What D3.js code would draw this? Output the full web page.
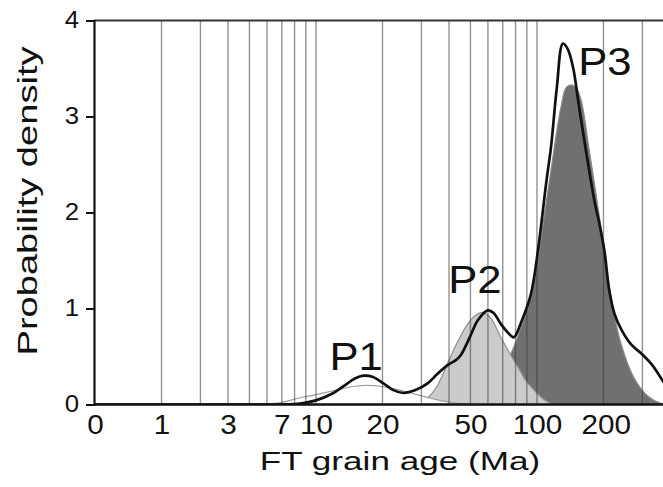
<!DOCTYPE html>
<html><head><meta charset="utf-8">
<script src="https://cdn.jsdelivr.net/npm/d3@7"></script>
<style>
body{margin:0;background:#fff}
svg{display:block}
text{font-family:"Liberation Sans",Arial,Helvetica,sans-serif;fill:#111}
</style>
</head><body>
<svg id="chart" width="663" height="487"></svg>
<script>
// ---- data (ages in Ma, probability density) ----
const totalAge  = [1, 5, 6.9, 8.5, 9.9, 12, 13.5, 15, 16.4, 18, 20.2, 22.4, 24.9, 28.2, 32, 35.5, 39.4, 42.8, 45.1, 50.1, 53.9, 59.9, 63.8, 68.6, 73.8, 78.6, 84.6, 93.9, 101, 110, 116, 123, 131, 138, 146, 154, 162, 172, 182, 191, 202, 212, 224, 241, 268, 297, 330, 378, 407];
const totalDens = [0, 0, 0, 0.01, 0.04, 0.12, 0.2, 0.27, 0.3, 0.29, 0.22, 0.15, 0.12, 0.15, 0.22, 0.32, 0.41, 0.46, 0.51, 0.72, 0.875, 0.98, 0.95, 0.84, 0.75, 0.70, 0.85, 1.15, 1.6, 2.3, 2.7, 3.3, 3.76, 3.7, 3.5, 3.15, 2.82, 2.45, 2.12, 1.9, 1.6, 1.2, 0.95, 0.78, 0.62, 0.53, 0.42, 0.22, 0.12];

const p1Age  = [5, 5.9, 6.9, 8.5, 10.4, 12.9, 15, 17, 19.5, 22.9, 26.8, 31.3, 36.6, 42.8, 50];
const p1Dens = [0, 0.005, 0.02, 0.07, 0.11, 0.16, 0.19, 0.2, 0.19, 0.16, 0.12, 0.08, 0.04, 0.015, 0];

const p2Age  = [24, 28.2, 32, 35.5, 39.4, 43.7, 48.6, 52.8, 56.8, 61.8, 68.6, 74.6, 82, 89, 97, 106.5, 116, 128];
const p2Dens = [0, 0.02, 0.07, 0.2, 0.43, 0.65, 0.84, 0.93, 0.96, 0.9, 0.7, 0.55, 0.39, 0.25, 0.15, 0.06, 0.01, 0];

const p3Age  = [50, 58.6, 65.1, 72.3, 78.6, 84.6, 93.9, 101, 110, 116, 122, 128.5, 135.5, 142.7, 150.4, 158.5, 172.4, 189.3, 206, 217, 241, 276, 320, 366, 407];
const p3Dens = [0, 0.08, 0.2, 0.42, 0.6, 0.8, 1.1, 1.5, 2.1, 2.45, 2.8, 3.1, 3.3, 3.33, 3.3, 3.17, 2.65, 2.04, 1.45, 1.1, 0.62, 0.27, 0.08, 0.01, 0];

const gridValues  = [2, 3, 4, 5, 6, 7, 8, 9, 10, 20, 30, 40, 50, 60, 70, 80, 90, 100, 200, 300];
const xTickValues = [1, 2, 4, 7, 10, 20, 50, 100, 205];
const xTickLabels = ["0", "1", "3", "7", "10", "20", "50", "100", "200"];
const yTickValues = [0, 1, 2, 3, 4];

const peakLabels = ["P1", "P2", "P3"];
const peakAge    = [15.2, 52.4, 203];
const peakDens   = [0.36, 1.16, 3.43];

const xTitle = "FT grain age (Ma)";
const yTitle = "Probability density";

// ---- drawing ----
const svg = d3.select("#chart");
const x = d3.scaleLog().domain([1, 400]).range([95, 670]);
const y = d3.scaleLinear().domain([0, 4]).range([404.5, 20.5]);

svg.append("defs").append("clipPath").attr("id", "plotclip")
  .append("rect").attr("x", 95).attr("y", 20).attr("width", 580).attr("height", 385);

const plot = svg.append("g").attr("clip-path", "url(#plotclip)");
const zip = (a, b) => a.map((v, i) => [v, b[i]]);

const area = d3.area().x(d => x(d[0])).y0(y(0)).y1(d => y(d[1])).curve(d3.curveCatmullRom.alpha(0.5));
const line = d3.line().x(d => x(d[0])).y(d => y(d[1])).curve(d3.curveCatmullRom.alpha(0.5));

const comps = [
  {data: zip(p3Age, p3Dens), fill: "#707070", stroke: "#8a8a8a"},
  {data: zip(p2Age, p2Dens), fill: "#cbcbcb", stroke: "#8f8f8f"},
  {data: zip(p1Age, p1Dens), fill: "#ffffff", stroke: "#a0a0a0"}
];
comps.forEach(c => {
  plot.append("path").datum(c.data).attr("d", area).attr("fill", c.fill);
  plot.append("path").datum(c.data).attr("d", line).attr("fill", "none")
      .attr("stroke", c.stroke).attr("stroke-width", 1.2);
});

// grid lines
plot.append("g").selectAll("line").data(gridValues).join("line")
  .attr("x1", d => x(d)).attr("x2", d => x(d))
  .attr("y1", y(4)).attr("y2", y(0))
  .attr("stroke", "#3a3a3a").attr("stroke-opacity", 0.55).attr("stroke-width", 1.4);

// total density curve
plot.append("path").datum(zip(totalAge, totalDens)).attr("d", line)
  .attr("fill", "none").attr("stroke", "#111").attr("stroke-width", 2.7)
  .attr("stroke-linejoin", "round");

// top border
svg.append("line").attr("x1", 94).attr("x2", 663).attr("y1", y(4)).attr("y2", y(4))
  .attr("stroke", "#333").attr("stroke-width", 2);

function stretch(sel, f) {
  sel.each(function() {
    const w = this.getComputedTextLength();
    d3.select(this).attr("textLength", w * f).attr("lengthAdjust", "spacingAndGlyphs");
  });
}

// y axis
const yAxis = svg.append("g").attr("transform", "translate(94,0)")
  .call(d3.axisLeft(y).tickValues(yTickValues).tickFormat(d3.format("d")).tickSize(8).tickPadding(7));
yAxis.select(".domain").attr("stroke", "#111").attr("stroke-width", 2.2);
yAxis.selectAll(".tick line").attr("stroke", "#111").attr("stroke-width", 2);
const ytl = yAxis.selectAll(".tick text").attr("font-size", 23).attr("fill", "#111")
  .attr("font-family", "Liberation Sans, Arial, sans-serif");
stretch(ytl, 1.12);

// x axis
const xAxis = svg.append("g").attr("transform", `translate(0,${y(0)})`)
  .call(d3.axisBottom(x).tickValues(xTickValues).tickFormat((d, i) => xTickLabels[i]).tickSize(0));
xAxis.select(".domain").attr("stroke", "#111").attr("stroke-width", 2.6).attr("d", "M94,0H663");
const xtl = xAxis.selectAll(".tick text").attr("font-size", 28).attr("fill", "#111")
  .attr("font-family", "Liberation Sans, Arial, sans-serif")
  .attr("y", 29).attr("dy", 0);
stretch(xtl, 1.06);

// titles
const xt = svg.append("text").attr("x", 400).attr("y", 470).attr("text-anchor", "middle")
  .attr("font-size", 26).text(xTitle);
stretch(xt, 1.35);
const yt = svg.append("text").attr("transform", "translate(37,201) rotate(-90)")
  .attr("text-anchor", "middle").attr("font-size", 28).text(yTitle);
stretch(yt, 1.36);

// peak labels
const pl = svg.append("g").selectAll("text").data(peakLabels).join("text")
  .attr("x", (d, i) => x(peakAge[i])).attr("y", (d, i) => y(peakDens[i]))
  .attr("text-anchor", "middle").attr("font-size", 39).text(d => d);
stretch(pl, 1.12);
</script>
</body></html>
